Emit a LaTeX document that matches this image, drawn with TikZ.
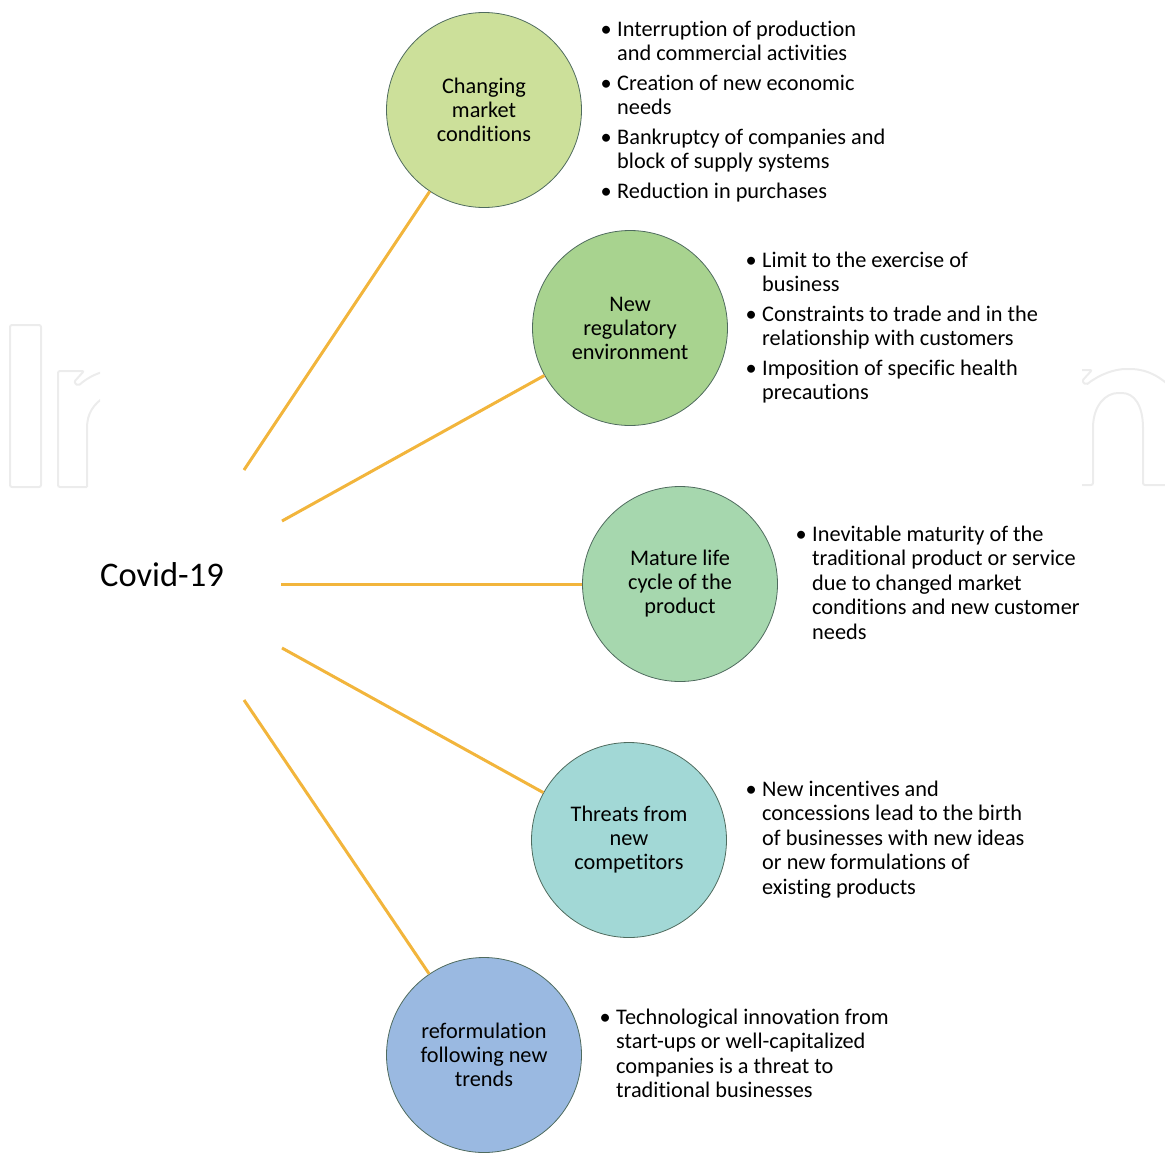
\documentclass[tikz,border=0pt]{standalone}
\usepackage{fontspec}
\setmainfont{Carlito}[Ligatures=NoCommon]
\definecolor{spokeOrange}{HTML}{F2B53C}
\definecolor{circEdge}{HTML}{4F6B5E}
\definecolor{wmGray}{HTML}{ECECEC}
\definecolor{fillA}{HTML}{CCE09A}
\definecolor{fillB}{HTML}{A8D38F}
\definecolor{fillC}{HTML}{A6D7AE}
\definecolor{fillD}{HTML}{A2D8D6}
\definecolor{fillE}{HTML}{9AB9E1}
\newcommand{\circfont}{\fontsize{22.3}{24}\selectfont}
\newcommand{\notefont}{\fontsize{22.3}{24.5}\selectfont}
\newcommand{\bl}{\makebox[22pt][c]{\textbullet}}
\begin{document}
\begin{tikzpicture}[x=1pt,y=-1pt,
  hub/.style={circle, draw=circEdge, line width=0.8pt, minimum size=195pt,
              inner sep=0pt, align=center, font=\circfont},
  spoke/.style={draw=spokeOrange, line width=3pt},
  notes/.style={anchor=north west, inner sep=0pt, font=\notefont},
  wm/.style={draw=wmGray, line width=2pt, rounded corners=2pt}]
\useasboundingbox (0,0) rectangle (1165,1152);

% faint background logo outlines at the two side margins
\begin{scope}
  \clip (0,0) rectangle (100,1152) (1082,0) rectangle (1165,1152);
  \draw[wm] (10,325) rectangle (41,487);
  \draw[wm] (87,487) -- (58,487) -- (58,371) -- (84,371) -- (74,382) -- (78,386)
        .. controls (86,379) and (94,374) .. (106,371);
  \draw[wm] (87,487) -- (87,430) .. controls (87,414) and (93,404) .. (106,396);
  \draw[wm] (1070,370) -- (1092,370) -- (1082,381) -- (1086,385)
        .. controls (1100,374) and (1115,369) .. (1128,369)
        .. controls (1150,369) and (1165,380) .. (1175,392);
  \draw[wm] (1070,485) -- (1093,485) -- (1093,430)
        .. controls (1093,405) and (1106,393) .. (1120,393)
        .. controls (1134,393) and (1143,405) .. (1143,430) -- (1143,485) -- (1172,485);
\end{scope}

% central label
\node[anchor=base west, inner sep=0pt, font=\fontsize{34.5}{40}\selectfont] (covid) at (100,586) {Covid-19};

% the five factors
\node[hub, fill=fillA] (c1) at (484,110) {Changing\\market\\conditions};
\node[hub, fill=fillB] (c2) at (630,328) {New\\regulatory\\environment};
\node[hub, fill=fillC] (c3) at (680,584) {Mature life\\cycle of the\\product};
\node[hub, fill=fillD] (c4) at (629,840) {Threats from\\new\\competitors};
\node[hub, fill=fillE] (c5) at (484,1055) {reformulation\\following new\\trends};

% spoke start points next to the label
\coordinate (s1) at (244,470);
\coordinate (s2) at (282,521);
\coordinate (s3) at (281,584);
\coordinate (s4) at (282,648);
\coordinate (s5) at (244,700);
\draw[spoke] (s1) -- (c1);
\draw[spoke] (s2) -- (c2);
\draw[spoke] (s3) -- (c3);
\draw[spoke] (s4) -- (c4);
\draw[spoke] (s5) -- (c5);

% bullet notes
\node[notes] (n1) at (595,19) {\begin{tabular}{@{}l@{}l@{}}
\bl & Interruption of production\\
    & and commercial activities\\[5pt]
\bl & Creation of new economic\\
    & needs\\[5pt]
\bl & Bankruptcy of companies and\\
    & block of supply systems\\[5pt]
\bl & Reduction in purchases
\end{tabular}};
\node[notes] (n2) at (740,250) {\begin{tabular}{@{}l@{}l@{}}
\bl & Limit to the exercise of\\
    & business\\[5pt]
\bl & Constraints to trade and in the\\
    & relationship with customers\\[5pt]
\bl & Imposition of specific health\\
    & precautions
\end{tabular}};
\node[notes] (n3) at (790,524) {\begin{tabular}{@{}l@{}l@{}}
\bl & Inevitable maturity of the\\
    & traditional product or service\\
    & due to changed market\\
    & conditions and new customer\\
    & needs
\end{tabular}};
\node[notes] (n4) at (740,779) {\begin{tabular}{@{}l@{}l@{}}
\bl & New incentives and\\
    & concessions lead to the birth\\
    & of businesses with new ideas\\
    & or new formulations of\\
    & existing products
\end{tabular}};
\node[notes] (n5) at (594,1007) {\begin{tabular}{@{}l@{}l@{}}
\bl & Technological innovation from\\
    & start-ups or well-capitalized\\
    & companies is a threat to\\
    & traditional businesses
\end{tabular}};
\end{tikzpicture}
\end{document}
